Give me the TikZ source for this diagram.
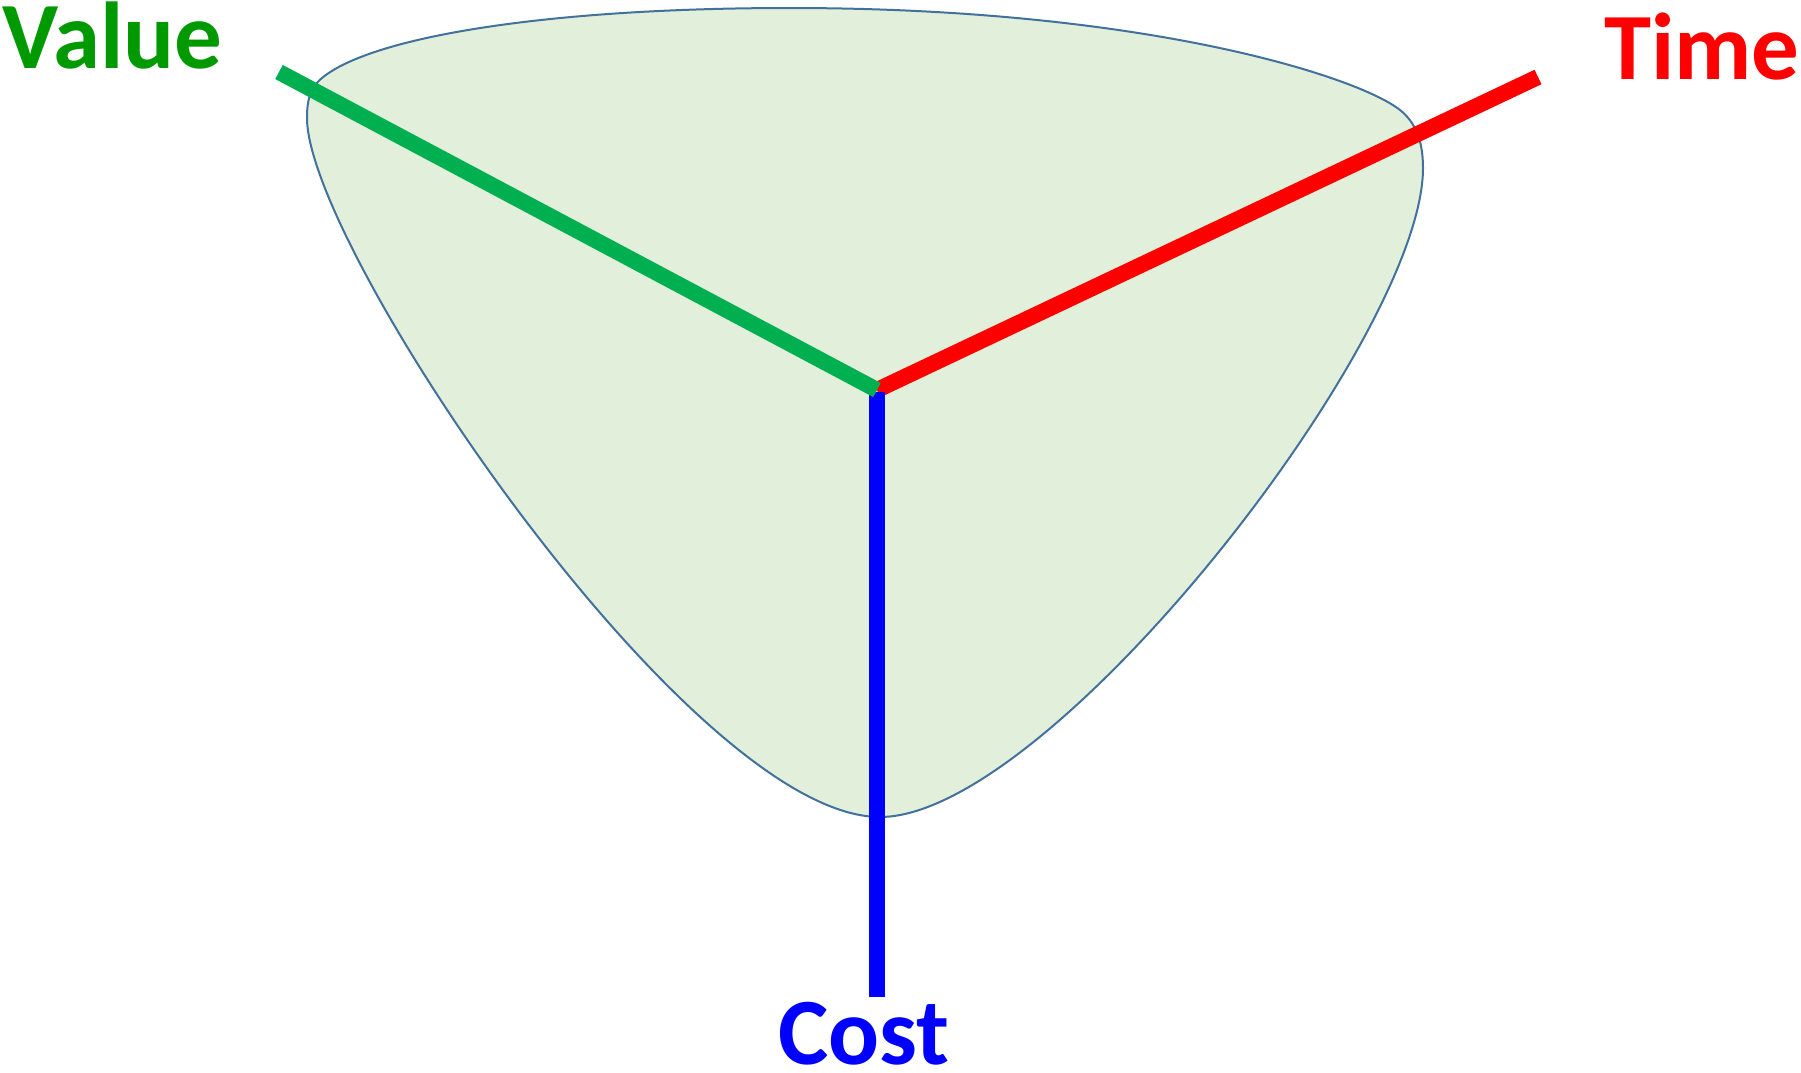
\documentclass[tikz,border=0pt]{standalone}
\usepackage{fontspec}
\setmainfont{Carlito}
\definecolor{fillgreen}{HTML}{E2EFDA}
\definecolor{edgeblue}{HTML}{41719C}
\definecolor{valgreen}{HTML}{00B050}
\definecolor{valtext}{HTML}{009900}
\begin{document}
\begin{tikzpicture}[x=1pt,y=-1pt,
  axis/.style={line width=16pt,line cap=butt},
  lbl/.style={inner sep=0pt,font=\fontsize{95}{95}\selectfont\bfseries}]
\useasboundingbox (0,0) rectangle (1801,1072);
% rounded triangular region
\draw[fill=fillgreen,draw=edgeblue,line width=2pt]
  (790,8) .. controls (540,8) and (370,38) .. (322,78)
  .. controls (310,88) and (307,100) .. (307,118)
  .. controls (307,248) and (690,817) .. (880,817)
  .. controls (1050,817) and (1423,338) .. (1423,168)
  .. controls (1423,140) and (1415,122) .. (1400,110)
  .. controls (1360,78) and (1150,8) .. (790,8) -- cycle;
\coordinate (ctr) at (877,390);
\coordinate (ctrB) at (877,392);
\coordinate (vEnd) at (279,72);
\coordinate (tEnd) at (1538,77);
\coordinate (cEnd) at (877,997);
\draw[axis,red] (ctr) -- (tEnd);
\draw[axis,blue] (ctrB) -- (cEnd);
\draw[axis,valgreen] (vEnd) -- (ctr);
\node[lbl,text=valtext,anchor=base west] (value) at (2,68) {Value};
\node[lbl,text=red,anchor=base east] (time) at (1800,79) {Time};
\node[lbl,text=blue,anchor=base] (cost) at (864,1064) {Cost};
\end{tikzpicture}
\end{document}
